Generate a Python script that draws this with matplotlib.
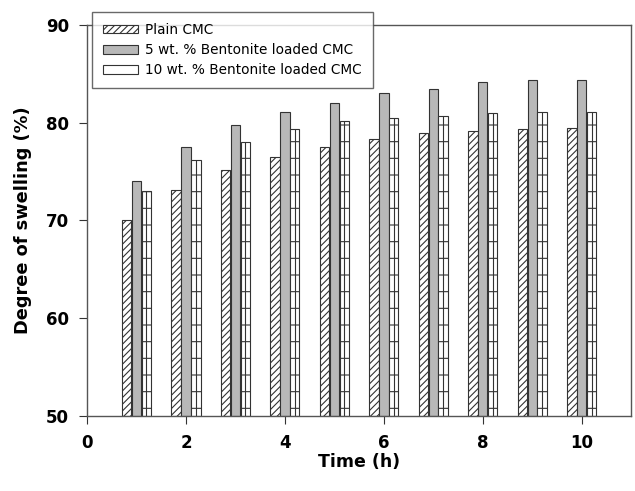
import matplotlib
matplotlib.use("Agg")
import matplotlib.pyplot as plt
import numpy as np

plt.rcParams['font.family'] = ['DejaVu Sans']
plt.rcParams['hatch.linewidth'] = 0.8

hours = [1, 2, 3, 4, 5, 6, 7, 8, 9, 10]
plain_cmc = [70.0, 73.1, 75.2, 76.5, 77.5, 78.3, 78.9, 79.2, 79.4, 79.5]
bent5_cmc = [74.0, 77.5, 79.75, 81.1, 82.0, 83.0, 83.5, 84.15, 84.4, 84.4]
bent10_cmc = [73.0, 76.2, 78.0, 79.4, 80.2, 80.5, 80.7, 81.0, 81.05, 81.05]
labels = ["Plain CMC", "5 wt. % Bentonite loaded CMC", "10 wt. % Bentonite loaded CMC"]
xticks = [0, 2, 4, 6, 8, 10]
yticks = [50, 60, 70, 80, 90]

fig = plt.figure(figsize=(6.35, 4.91), dpi=100)
ax = fig.add_axes([0.137, 0.153, 0.857, 0.796])

x = np.array(hours, dtype=float)
w = 0.19
base = 50
edge = '#333333'
ax.bar(x - 0.2, np.array(plain_cmc) - base, w, bottom=base, color='white',
       edgecolor=edge, hatch='/////', linewidth=0.8, label=labels[0])
ax.bar(x, np.array(bent5_cmc) - base, w, bottom=base, color='#b8b8b8',
       edgecolor=edge, linewidth=0.8, label=labels[1])
ax.bar(x + 0.2, np.array(bent10_cmc) - base, w, bottom=base, color='white',
       edgecolor=edge, hatch='-', linewidth=0.8, label=labels[2])
ax.vlines(x + 0.2, base, bent10_cmc, color=edge, linewidth=0.8)

ax.set_xlim(0, 11)
ax.set_ylim(50, 90)
ax.set_xticks(xticks)
ax.set_yticks(yticks)
ax.tick_params(direction='out', length=6, width=0.8, colors='#333333', labelsize=12, pad=7)
for lab in ax.get_xticklabels() + ax.get_yticklabels():
    lab.set_fontweight('bold')
    lab.set_color('black')
for s in ax.spines.values():
    s.set_color('#555555')
    s.set_linewidth(1.0)

ax.set_xlabel('Time (h)', fontsize=12.5, fontweight='bold', labelpad=1)
ax.set_ylabel('Degree of swelling (%)', fontsize=12.8, fontweight='bold', labelpad=10)

leg = ax.legend(loc='upper left', bbox_to_anchor=(92 / 635, 1 - 12 / 491),
                bbox_transform=fig.transFigure, fontsize=9.8, frameon=True,
                fancybox=False, edgecolor='#444444', handlelength=2.6,
                handleheight=0.6, handletextpad=0.5, labelspacing=0.45,
                borderpad=0.8, borderaxespad=0)
leg.get_frame().set_linewidth(1.0)

fig.savefig('out.png', dpi=100)
